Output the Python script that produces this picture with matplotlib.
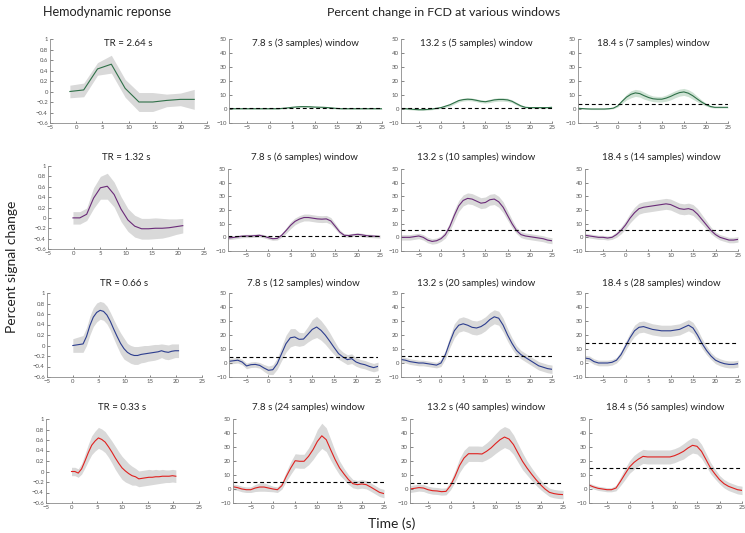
import matplotlib
matplotlib.use("Agg")
import matplotlib.pyplot as plt

plt.rcParams['font.family'] = ['Lato', 'DejaVu Sans']

# ---------------- data ----------------
hrf_titles = ["TR = 2.64 s", "TR = 1.32 s", "TR = 0.66 s", "TR = 0.33 s"]
row_colors = ["#2f7048", "#6a2a78", "#2c3d8e", "#e0211f"]

hrf_t1 = [-1.2, 1.44, 4.08, 6.72, 9.36, 12.0, 14.64, 17.28, 19.92, 22.56]
hrf_m1 = [0.0, 0.03, 0.43, 0.52, 0.06, -0.2, -0.2, -0.17, -0.15, -0.15]
hrf_e1 = [0.12, 0.13, 0.12, 0.17, 0.17, 0.18, 0.18, 0.12, 0.12, 0.19]

hrf_t2 = [-0.2, 1.12, 2.44, 3.76, 5.08, 6.4, 7.72, 9.04, 10.36, 11.68, 13.0,
          14.32, 15.64, 16.96, 18.28, 19.6, 20.92]
hrf_m2 = [0.0, 0.0, 0.07, 0.38, 0.58, 0.61, 0.45, 0.17, -0.04, -0.16, -0.21,
          -0.21, -0.2, -0.2, -0.19, -0.17, -0.15]
hrf_e2 = [0.12, 0.12, 0.12, 0.2, 0.22, 0.25, 0.24, 0.24, 0.22, 0.21, 0.2,
          0.2, 0.2, 0.19, 0.17, 0.15, 0.14]

hrf_t34 = [0.0, 0.66, 1.32, 1.98, 2.64, 3.3, 3.96, 4.62, 5.28, 5.94, 6.6, 7.26,
           7.92, 8.58, 9.24, 9.9, 10.56, 11.22, 11.88, 12.54, 13.2, 13.86,
           14.52, 15.18, 15.84, 16.5, 17.16, 17.82, 18.48, 19.14, 19.8, 20.46]
hrf_m3 = [0.0, 0.01, 0.02, 0.03, 0.17, 0.38, 0.54, 0.63, 0.67, 0.65, 0.58, 0.46,
          0.31, 0.17, 0.04, -0.06, -0.13, -0.17, -0.19, -0.19, -0.17, -0.16,
          -0.15, -0.14, -0.13, -0.12, -0.1, -0.12, -0.13, -0.11, -0.1, -0.1]
hrf_e3 = [0.13, 0.14, 0.15, 0.16, 0.17, 0.18, 0.18, 0.18, 0.17, 0.17, 0.17, 0.17,
          0.18, 0.19, 0.2, 0.2, 0.17, 0.17, 0.17, 0.17, 0.16, 0.16,
          0.15, 0.15, 0.15, 0.14, 0.13, 0.14, 0.14, 0.14, 0.13, 0.13]
hrf_m4 = [0.0, 0.0, -0.03, 0.05, 0.2, 0.36, 0.5, 0.58, 0.64, 0.61, 0.56, 0.47,
          0.37, 0.26, 0.16, 0.07, 0.01, -0.04, -0.08, -0.1, -0.14, -0.13,
          -0.12, -0.11, -0.11, -0.1, -0.1, -0.09, -0.09, -0.09, -0.08, -0.09]
hrf_e4 = [0.08, 0.08, 0.08, 0.1, 0.13, 0.16, 0.18, 0.19, 0.2, 0.2, 0.2, 0.2,
          0.21, 0.22, 0.22, 0.22, 0.21, 0.19, 0.18, 0.16, 0.15, 0.15,
          0.15, 0.15, 0.14, 0.14, 0.13, 0.13, 0.12, 0.12, 0.12, 0.12]

hrf_t = [hrf_t1, hrf_t2, hrf_t34, hrf_t34]
hrf_m = [hrf_m1, hrf_m2, hrf_m3, hrf_m4]
hrf_e = [hrf_e1, hrf_e2, hrf_e3, hrf_e4]

# FCD percent change, sampled at -9 ... 25 s
fcd_t = [-9, -8, -7, -6, -5, -4, -3, -2, -1, 0, 1, 2, 3, 4, 5, 6, 7, 8, 9, 10,
         11, 12, 13, 14, 15, 16, 17, 18, 19, 20, 21, 22, 23, 24, 25]

fcd_titles = [
    ["7.8 s (3 samples) window", "13.2 s (5 samples) window", "18.4 s (7 samples) window"],
    ["7.8 s (6 samples) window", "13.2 s (10 samples) window", "18.4 s (14 samples) window"],
    ["7.8 s (12 samples) window", "13.2 s (20 samples) window", "18.4 s (28 samples) window"],
    ["7.8 s (24 samples) window", "13.2 s (40 samples) window", "18.4 s (56 samples) window"],
]
fcd_thresh = [[0.5, 0.8, 3.5], [1.0, 5.0, 5.0], [4.5, 5.0, 14.0], [5.0, 4.3, 14.8]]

m_r1c1 = [0.2, 0.2, 0.2, 0.2, 0.2, 0.2, 0.2, 0.2, 0.2, 0.2, 0.2, 0.2, 0.5, 0.8, 1.2, 1.5, 1.7, 1.7,
          1.6, 1.4, 1.3, 1.2, 1.0, 0.7, 0.4, 0.2, 0.2, 0.2, 0.2, 0.2, 0.2, 0.2, 0.2, 0.2, 0.2]
e_r1c1 = [0.3, 0.3, 0.3, 0.3, 0.3, 0.3, 0.3, 0.3, 0.3, 0.3, 0.3, 0.3, 0.4, 0.5, 0.5, 0.5, 0.5, 0.5,
          0.5, 0.5, 0.5, 0.5, 0.5, 0.5, 0.4, 0.3, 0.3, 0.3, 0.3, 0.3, 0.3, 0.3, 0.3, 0.3, 0.3]
m_r1c2 = [0.3, 0.2, 0.0, -0.3, -0.5, -0.5, -0.3, 0.0, 0.5, 1.0, 2.0, 3.0, 4.5, 6.0, 6.7, 7.0, 6.8, 6.2,
          5.5, 5.2, 5.8, 6.5, 6.8, 6.8, 6.5, 5.5, 3.8, 2.2, 1.2, 1.0, 1.0, 1.0, 1.0, 1.0, 1.2]
e_r1c2 = [0.5, 0.5, 0.5, 0.5, 0.5, 0.5, 0.5, 0.5, 0.5, 0.6, 0.8, 1.0, 1.0, 1.0, 1.0, 1.0, 1.0, 1.0,
          1.0, 1.0, 1.2, 1.2, 1.2, 1.2, 1.2, 1.0, 1.0, 0.8, 0.6, 0.5, 0.5, 0.5, 0.5, 0.5, 0.5]
m_r1c3 = [0.5, 0.3, 0.1, 0.0, 0.0, 0.0, 0.0, 0.2, 0.6, 2.2, 5.5, 8.5, 10.5, 11.5, 11.0, 9.5, 8.2, 7.3,
          7.0, 7.0, 7.8, 9.0, 10.5, 11.7, 12.2, 11.3, 9.5, 7.2, 5.0, 3.2, 1.8, 1.2, 1.2, 1.2, 1.2]
e_r1c3 = [0.4, 0.4, 0.4, 0.4, 0.4, 0.4, 0.4, 0.4, 0.4, 0.8, 1.5, 2.0, 2.5, 2.5, 2.5, 2.5, 2.2, 2.0,
          2.0, 2.0, 2.2, 2.5, 2.5, 2.5, 2.5, 2.5, 2.5, 2.0, 1.5, 1.0, 0.8, 0.5, 0.5, 0.5, 0.5]

m_r2c1 = [-0.5, -0.2, 0.3, 0.8, 1.0, 1.0, 1.2, 1.5, 0.8, -0.2, -1.0, -0.8, 1.5, 5.0, 8.8, 11.7, 13.4, 14.5,
          14.5, 14.0, 13.5, 13.3, 13.5, 12.0, 8.0, 3.9, 1.5, 1.3, 1.8, 2.2, 1.8, 1.2, 1.0, 0.8, 0.6]
e_r2c1 = [1.2, 1.2, 1.2, 1.2, 1.2, 1.2, 1.2, 1.2, 1.2, 1.2, 1.2, 1.2, 1.5, 2.0, 2.5, 2.5, 2.5, 2.5,
          2.5, 2.5, 2.5, 2.5, 2.5, 2.5, 2.0, 1.5, 1.2, 1.2, 1.2, 1.2, 1.2, 1.2, 1.2, 1.2, 1.2]
m_r2c2 = [0.0, 0.0, 0.0, 0.5, 1.0, 0.0, -2.0, -3.0, -2.5, -1.0, 2.0, 8.0, 16.0, 23.0, 27.0, 28.5, 28.0, 26.5,
          25.0, 25.5, 27.5, 28.0, 26.0, 22.0, 16.0, 10.0, 5.0, 2.0, 1.0, 0.5, 0.0, -0.5, -1.0, -2.0, -2.5]
e_r2c2 = [2.0, 2.0, 2.0, 2.0, 2.0, 2.0, 2.0, 2.0, 2.0, 2.0, 2.5, 3.0, 4.0, 4.0, 4.0, 4.0, 4.0, 4.0,
          4.0, 4.0, 4.0, 4.0, 4.0, 4.0, 3.5, 3.0, 2.2, 2.2, 2.2, 2.2, 2.2, 2.2, 2.2, 2.2, 2.2]
m_r2c3 = [1.5, 1.0, 0.5, 0.0, 0.0, -0.5, 0.0, 2.0, 5.0, 9.0, 14.0, 18.0, 21.0, 22.0, 22.5, 23.0, 23.5, 24.0,
          24.5, 24.0, 22.5, 21.0, 20.5, 21.0, 20.0, 17.0, 13.0, 9.0, 5.0, 2.0, 0.0, -1.0, -2.0, -2.0, -1.5]
e_r2c3 = [1.5, 1.5, 1.5, 1.5, 1.5, 1.5, 1.5, 2.0, 2.5, 3.0, 3.5, 4.0, 4.0, 4.0, 4.0, 4.0, 4.0, 4.0,
          4.0, 4.0, 4.0, 4.0, 4.0, 4.0, 4.0, 4.0, 3.5, 3.0, 2.5, 2.0, 2.0, 2.0, 2.0, 2.0, 2.0]

m_r3c1 = [1.2, 1.6, 2.0, 0.7, -2.1, -1.2, -1.0, -1.7, -3.6, -5.2, -4.8, -0.5, 6.7, 13.8, 18.0, 18.6, 16.9, 17.1,
          20.5, 24.0, 25.7, 23.3, 19.8, 15.5, 11.0, 6.7, 4.3, 2.4, 3.1, 0.7, -0.5, -1.2, -2.4, -3.3, -2.4]
e_r3c1 = [2.0, 2.0, 2.0, 2.0, 2.0, 2.0, 2.0, 2.0, 2.5, 3.0, 3.5, 4.0, 5.0, 6.0, 6.5, 6.0, 5.0, 4.5,
          5.5, 7.0, 7.5, 7.0, 6.5, 6.0, 5.0, 4.0, 3.5, 3.5, 3.5, 3.0, 3.0, 3.0, 3.0, 3.0, 3.0]
m_r3c2 = [2.5, 2.0, 1.0, 0.5, 0.0, 0.0, -0.5, -1.0, -1.5, 0.0, 6.0, 15.0, 23.0, 27.0, 28.0, 27.0, 25.5, 25.0,
          26.0, 28.0, 31.0, 33.0, 32.0, 27.0, 20.0, 14.0, 9.0, 6.0, 4.0, 2.0, 0.0, -2.0, -3.0, -4.0, -4.5]
e_r3c2 = [2.0, 2.0, 2.0, 2.0, 2.0, 2.0, 2.0, 2.0, 2.0, 2.5, 3.0, 4.0, 5.0, 5.0, 5.0, 5.0, 5.0, 5.0,
          5.0, 5.0, 5.0, 5.0, 5.0, 5.0, 4.5, 4.0, 3.5, 3.0, 3.0, 3.0, 3.0, 3.0, 3.0, 3.0, 3.0]
m_r3c3 = [3.5, 3.0, 1.0, 0.0, 0.0, 0.0, 0.5, 2.0, 6.0, 12.0, 18.0, 23.0, 25.5, 26.0, 25.0, 24.0, 23.5, 23.0,
          23.0, 23.0, 23.5, 24.0, 25.5, 27.0, 25.0, 20.0, 14.0, 9.0, 5.0, 2.0, 0.5, -0.5, -1.0, -1.0, -0.5]
e_r3c3 = [2.0, 2.0, 2.0, 2.0, 2.0, 2.0, 2.0, 2.0, 2.5, 3.0, 3.5, 4.0, 4.0, 4.0, 4.0, 4.0, 4.0, 4.0,
          4.0, 4.0, 4.0, 4.0, 4.0, 4.0, 4.0, 4.0, 3.5, 3.0, 2.5, 2.5, 2.5, 2.5, 2.5, 2.5, 2.5]

m_r4c1 = [1.6, 1.0, 0.0, -0.5, -0.5, 0.7, 1.4, 1.4, 0.7, 0.0, -0.5, 2.4, 9.0, 15.0, 20.2, 19.8, 19.8, 23.3,
          28.0, 34.0, 38.0, 35.2, 28.0, 21.0, 15.0, 10.7, 6.7, 3.8, 3.1, 3.6, 3.1, 1.4, -0.5, -2.4, -3.3]
e_r4c1 = [2.0, 2.0, 2.0, 2.0, 2.0, 2.5, 3.0, 3.0, 2.5, 2.0, 2.0, 2.5, 3.5, 4.5, 5.0, 5.0, 5.0, 6.0,
          7.0, 8.5, 9.0, 8.5, 7.5, 6.0, 5.0, 4.0, 3.5, 3.0, 3.0, 3.0, 3.0, 3.0, 3.0, 3.0, 3.0]
m_r4c2 = [0.0, 0.5, 1.0, 0.7, -0.5, -1.2, -1.4, -1.9, -1.7, 2.4, 9.0, 16.7, 22.1, 25.2, 25.2, 25.2, 25.0, 26.9,
          29.3, 32.4, 35.2, 37.1, 35.7, 31.7, 25.7, 19.8, 15.0, 10.7, 6.7, 3.1, 0.0, -2.4, -3.3, -3.8, -4.0]
e_r4c2 = [2.5, 2.5, 2.5, 2.5, 2.5, 2.5, 2.5, 2.5, 2.5, 3.0, 4.0, 5.0, 5.5, 5.5, 5.5, 5.5, 5.5, 6.0,
          6.5, 7.0, 7.5, 7.5, 7.5, 7.0, 6.5, 6.0, 5.0, 4.5, 4.0, 3.5, 3.0, 3.0, 3.0, 3.0, 3.0]
m_r4c3 = [2.8, 1.5, 0.5, 0.0, -0.5, -0.5, 0.7, 5.5, 10.7, 15.7, 19.0, 21.4, 23.3, 22.9, 22.9, 22.9, 22.9, 22.9,
          22.9, 23.8, 25.2, 26.9, 29.3, 31.2, 30.5, 26.9, 21.0, 15.0, 10.7, 6.7, 3.8, 1.9, 0.7, -0.5, -1.0]
e_r4c3 = [1.5, 1.5, 1.5, 1.5, 1.5, 1.5, 2.0, 3.0, 4.0, 4.5, 5.0, 5.0, 5.0, 5.0, 5.0, 5.0, 5.0, 5.0,
          5.0, 5.0, 5.0, 5.5, 5.5, 5.5, 5.5, 5.0, 4.5, 4.0, 3.5, 3.0, 3.0, 3.0, 3.0, 3.0, 3.0]

fcd_m = [[m_r1c1, m_r1c2, m_r1c3], [m_r2c1, m_r2c2, m_r2c3],
         [m_r3c1, m_r3c2, m_r3c3], [m_r4c1, m_r4c2, m_r4c3]]
fcd_e = [[e_r1c1, e_r1c2, e_r1c3], [e_r2c1, e_r2c2, e_r2c3],
         [e_r3c1, e_r3c2, e_r3c3], [e_r4c1, e_r4c2, e_r4c3]]

# ---------------- layout (pixels) ----------------
W, H = 745, 533
hrf_rows = [(39, 123), (166, 249), (293, 377), (419, 503)]
fcd_rows = [(39, 123), (169, 251), (293, 377), (419, 503)]
col_spans = [
    [(50, 207), (48, 204), (47, 202), (46, 199)],
    [(229, 382), (228, 380), (229, 378), (233, 384)],
    [(401, 552), (401, 552), (401, 552), (410, 563)],
    [(578, 728), (585, 738), (585, 738), (589, 742)],
]
title_y = [43, 157, 283, 407]
band_gray = "#d9d9d9"
band_green = "#cfe2d4"


def make_axes(fig, xspan, yspan):
    l, r = xspan
    t, b = yspan
    ax = fig.add_axes([l / W, 1 - b / H, (r - l) / W, (b - t) / H])
    for s in ["top", "right"]:
        ax.spines[s].set_visible(False)
    for s in ["left", "bottom"]:
        ax.spines[s].set_color("#8a8a8a")
        ax.spines[s].set_linewidth(0.6)
    ax.tick_params(labelsize=4.3, colors="#555555", length=1.8, width=0.5,
                   direction="in", pad=1.5)
    ax.patch.set_visible(False)
    return ax


def panel_title(ax, text, yspan, ty):
    t, b = yspan
    ax.text(0.5, (b - ty) / (b - t), text, transform=ax.transAxes,
            ha="center", va="center", fontsize=7.0, color="#222222")


fig = plt.figure(figsize=(W / 100, H / 100), dpi=100)

for r in range(4):
    # hemodynamic response column
    ax = make_axes(fig, col_spans[0][r], hrf_rows[r])
    lo = [m - e for m, e in zip(hrf_m[r], hrf_e[r])]
    hi = [m + e for m, e in zip(hrf_m[r], hrf_e[r])]
    ax.fill_between(hrf_t[r], lo, hi, color=band_gray, lw=0)
    ax.plot(hrf_t[r], hrf_m[r], color=row_colors[r], lw=0.8)
    ax.set_xlim(-5, 25)
    ax.set_ylim(-0.6, 1)
    ax.set_xticks([-5, 0, 5, 10, 15, 20, 25])
    ax.set_yticks([-0.6, -0.4, -0.2, 0, 0.2, 0.4, 0.6, 0.8, 1])
    ax.set_yticklabels(["\u22120.6", "\u22120.4", "\u22120.2", "0", "0.2", "0.4", "0.6", "0.8", "1"])
    panel_title(ax, hrf_titles[r], hrf_rows[r], title_y[r])

    # FCD columns
    for c in range(3):
        ax = make_axes(fig, col_spans[c + 1][r], fcd_rows[r])
        m = fcd_m[r][c]
        e = fcd_e[r][c]
        lo = [a - b for a, b in zip(m, e)]
        hi = [a + b for a, b in zip(m, e)]
        band = band_green if r == 0 else band_gray
        ax.fill_between(fcd_t, lo, hi, color=band, lw=0)
        ax.plot(fcd_t, m, color=row_colors[r], lw=0.8)
        ax.axhline(fcd_thresh[r][c], color="black", lw=0.8, ls=(0, (3.5, 2.5)))
        ax.set_xlim(-9, 25)
        ax.set_ylim(-10, 50)
        ax.set_xticks([-5, 0, 5, 10, 15, 20, 25])
        ax.set_yticks([-10, 0, 10, 20, 30, 40, 50])
        panel_title(ax, fcd_titles[r][c], fcd_rows[r], title_y[r])

fig.text(107 / W, 1 - 12 / H, "Hemodynamic reponse", ha="center", va="center",
         fontsize=9.1, color="#222222")
fig.text(444 / W, 1 - 12 / H, "Percent change in FCD at various windows",
         ha="center", va="center", fontsize=8.9, color="#222222")
fig.text(12 / W, 1 - 267 / H, "Percent signal change", rotation=90,
         ha="center", va="center", fontsize=10, color="#222222")
fig.text(392 / W, 1 - 524 / H, "Time (s)", ha="center", va="center",
         fontsize=10, color="#222222")

fig.savefig("out.png", dpi=100)
